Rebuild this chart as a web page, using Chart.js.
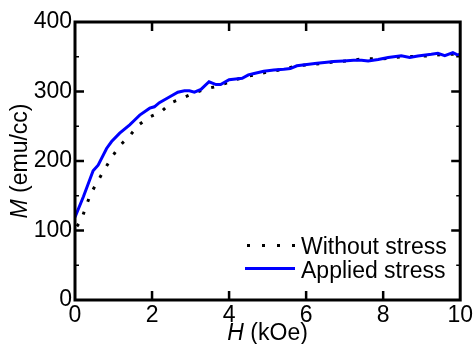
<!DOCTYPE html>
<html>
<head>
<meta charset="utf-8">
<script src="https://cdn.jsdelivr.net/npm/chart.js@4.4.1/dist/chart.umd.min.js"></script>
<style>
  html, body { margin: 0; padding: 0; background: #fff; }
</style>
</head>
<body>
<canvas id="myChart" width="475" height="344"></canvas>
<script>
// H (kOe) and M (emu/cc)
const fieldWithout = [0.05, 0.17, 0.28, 0.41, 0.59, 0.77, 0.95, 1.16, 1.42, 1.63, 1.92, 2.24, 2.5, 2.81, 3.1, 3.4, 3.74, 4.1, 4.5, 5.0, 5.42, 5.76, 6.2, 6.77, 7.1, 7.47, 8.0, 8.5, 9.1, 9.5, 10.0];
const momentWithout = [106, 116, 134, 153, 171, 188, 205, 222, 236, 251, 263, 271, 284, 291, 298, 304, 308, 316, 322, 328, 332, 337, 339, 343, 344, 347, 347, 350, 351, 353, 354];

const fieldApplied = [0, 0.22, 0.47, 0.6, 0.82, 0.95, 1.16, 1.42, 1.55, 1.68, 1.94, 2.06, 2.19, 2.45, 2.67, 2.84, 2.97, 3.1, 3.27, 3.48, 3.66, 3.78, 4.0, 4.17, 4.34, 4.5, 4.65, 4.9, 5.16, 5.42, 5.59, 5.76, 6.02, 6.28, 6.54, 6.71, 6.97, 7.23, 7.44, 7.61, 7.87, 8.13, 8.47, 8.69, 8.9, 9.25, 9.42, 9.6, 9.81, 9.94, 10.0];
const momentApplied = [119, 149, 186, 194, 218, 228, 240, 252, 259, 266, 276, 278, 284, 292, 299, 301, 301, 299, 303, 314, 310, 310, 317, 318, 319, 324, 326, 329, 331, 332, 333, 337, 339, 340.5, 342, 343, 344, 345, 345, 344, 346, 349, 351.5, 349, 351, 353.5, 355, 351.5, 356, 352.5, 354];

const xTickValues = [0, 2, 4, 6, 8, 10];
const yTickValues = [0, 100, 200, 300, 400];
const yMinorTicks = [50, 150, 250, 350];

const seriesNames = ["Without stress", "Applied stress"];

const FONT = '"Liberation Sans", Arial, sans-serif';

const toPoints = (xs, ys) => xs.map((v, i) => ({ x: v, y: ys[i] }));

const framePlugin = {
  id: "frame",
  afterDraw(chart) {
    const { ctx, chartArea: a, scales: { x, y } } = chart;
    ctx.save();
    ctx.strokeStyle = "#000";
    ctx.lineWidth = 3;
    ctx.strokeRect(a.left, a.top, a.right - a.left, a.bottom - a.top);

    // inward ticks on all four sides
    ctx.lineWidth = 2.5;
    ctx.beginPath();
    xTickValues.slice(1, -1).forEach((v) => {
      const px = x.getPixelForValue(v);
      ctx.moveTo(px, a.bottom); ctx.lineTo(px, a.bottom - 9);
      ctx.moveTo(px, a.top); ctx.lineTo(px, a.top + 9);
    });
    yTickValues.slice(1, -1).forEach((v) => {
      const py = y.getPixelForValue(v);
      ctx.moveTo(a.left, py); ctx.lineTo(a.left + 9, py);
      ctx.moveTo(a.right, py); ctx.lineTo(a.right - 9, py);
    });
    ctx.stroke();
    ctx.lineWidth = 1.5;
    ctx.beginPath();
    yMinorTicks.forEach((v) => {
      const py = y.getPixelForValue(v);
      ctx.moveTo(a.left, py); ctx.lineTo(a.left + 4, py);
      ctx.moveTo(a.right, py); ctx.lineTo(a.right - 4, py);
    });
    ctx.stroke();

    // axis titles, italic symbol + plain unit
    ctx.fillStyle = "#000";
    ctx.textBaseline = "alphabetic";
    ctx.textAlign = "left";
    const italic = "italic 23px " + FONT;
    const plain = "23px " + FONT;

    ctx.font = italic;
    const wH = ctx.measureText("H").width;
    ctx.font = plain;
    const wU = ctx.measureText(" (kOe)").width;
    let sx = (a.left + a.right) / 2 - (wH + wU) / 2;
    ctx.font = italic;
    ctx.fillText("H", sx, 339.5);
    ctx.font = plain;
    ctx.fillText(" (kOe)", sx + wH, 339.5);

    ctx.save();
    ctx.translate(27, (a.top + a.bottom) / 2);
    ctx.rotate(-Math.PI / 2);
    ctx.font = italic;
    const wM = ctx.measureText("M").width;
    ctx.font = plain;
    const wE = ctx.measureText(" (emu/cc)").width;
    sx = -(wM + wE) / 2;
    ctx.font = italic;
    ctx.fillText("M", sx, 0);
    ctx.font = plain;
    ctx.fillText(" (emu/cc)", sx + wM, 0);
    ctx.restore();

    // legend inside the plot, lower right
    ctx.lineWidth = 3;
    ctx.strokeStyle = "#000";
    ctx.setLineDash([3, 12]);
    ctx.beginPath();
    ctx.moveTo(247, 245.5); ctx.lineTo(296, 245.5);
    ctx.stroke();
    ctx.setLineDash([]);
    ctx.strokeStyle = "#0000ff";
    ctx.beginPath();
    ctx.moveTo(245, 268.5); ctx.lineTo(295, 268.5);
    ctx.stroke();
    ctx.font = plain;
    ctx.fillText(seriesNames[0], 301, 253.5);
    ctx.fillText(seriesNames[1], 301, 278);
    ctx.restore();
  },
};

const ctx = document.getElementById("myChart").getContext("2d");
const myChart = new Chart(ctx, {
  type: "line",
  data: {
    datasets: [
      {
        label: seriesNames[0],
        data: toPoints(fieldWithout, momentWithout),
        borderColor: "#000",
        borderWidth: 3,
        borderDash: [3, 10.5],
        pointRadius: 0,
        tension: 0,
        order: 1,
      },
      {
        label: seriesNames[1],
        data: toPoints(fieldApplied, momentApplied),
        borderColor: "#0000ff",
        borderWidth: 3,
        pointRadius: 0,
        tension: 0,
        order: 0,
      },
    ],
  },
  options: {
    responsive: false,
    animation: false,
    devicePixelRatio: 1,
    layout: { padding: { top: 22, right: 13, left: 0, bottom: 0 } },
    plugins: { legend: { display: false }, tooltip: { enabled: false } },
    scales: {
      x: {
        type: "linear",
        min: 0,
        max: 10,
        grid: { display: false, drawTicks: false },
        border: { display: false },
        afterBuildTicks: (s) => { s.ticks = xTickValues.map((v) => ({ value: v })); },
        afterFit: (s) => { s.height = 44; },
        ticks: { color: "#000", padding: 2, maxRotation: 0, font: { family: FONT, size: 23 } },
      },
      y: {
        type: "linear",
        min: 0,
        max: 400,
        grid: { display: false, drawTicks: false },
        border: { display: false },
        afterBuildTicks: (s) => { s.ticks = yTickValues.map((v) => ({ value: v })); },
        afterFit: (s) => { s.width = 75; },
        ticks: { color: "#000", padding: 3, font: { family: FONT, size: 23 } },
      },
    },
  },
  plugins: [framePlugin],
});
</script>
</body>
</html>
